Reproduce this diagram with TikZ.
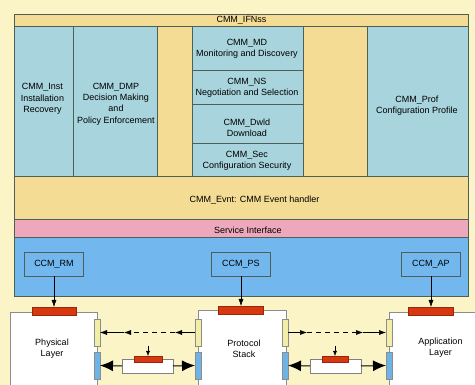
\documentclass[tikz,border=0pt]{standalone}
\usepackage{fontspec}
\setmainfont{Liberation Sans}
\usetikzlibrary{arrows.meta}
\definecolor{bgc}{HTML}{FBF4C6}
\definecolor{gold}{HTML}{F5DC94}
\definecolor{lblue}{HTML}{A8D4DD}
\definecolor{pinkc}{HTML}{EDA8BB}
\definecolor{bluec}{HTML}{72B8EF}
\definecolor{redc}{HTML}{D8380F}
\definecolor{bord}{HTML}{4E5F58}
\definecolor{ybar}{HTML}{F3EEA6}
\definecolor{bbar}{HTML}{6CB4E8}
\begin{document}
\begin{tikzpicture}[x=1pt,y=-1pt,
  font=\fontsize{9}{11.3}\selectfont,
  cell/.style={draw=bord, line width=0.6pt, inner sep=0pt, outer sep=0pt, anchor=north west},
  lbl/.style={align=center, inner sep=0pt},
  layerbox/.style={draw=black!45, fill=white, line width=0.6pt, inner sep=0pt, outer sep=0pt, anchor=north west},
  redbar/.style={draw=redc!70!black, fill=redc, line width=0.4pt, inner sep=0pt, outer sep=0pt, anchor=north west},
  ybarbox/.style={draw=black!45, fill=ybar, line width=0.5pt, inner sep=0pt, outer sep=0pt, anchor=north west, minimum width=6pt, minimum height=27pt},
  bbarbox/.style={draw=black!45, fill=bbar, line width=0.5pt, inner sep=0pt, outer sep=0pt, anchor=north west, minimum width=6pt, minimum height=27pt},
  thinarrow/.style={draw=black, line width=0.5pt, -{Latex[length=7pt,width=5pt]}},
  bigarrow/.style={draw=black, line width=1pt, -{Latex[length=13pt,width=11pt]}},
  ccmbox/.style={draw=bord, line width=0.6pt, inner sep=0pt, outer sep=0pt, minimum width=59pt, minimum height=24pt}
]
\useasboundingbox (0,0) rectangle (475,385);
\fill[bgc] (0,0) rectangle (475,385);

% upper framework
\node[cell, fill=gold, minimum width=454pt, minimum height=205pt] (frame) at (14,14) {};
\node[cell, fill=gold, minimum width=454pt, minimum height=12pt] (ifn) at (14,14) {};
\node[cell, fill=lblue, minimum width=59pt, minimum height=150pt] (inst) at (14,26) {};
\node[cell, fill=lblue, minimum width=84pt, minimum height=150pt] (dmp) at (73,26) {};
\node[cell, fill=lblue, minimum width=111pt, minimum height=44pt] (md) at (192,26) {};
\node[cell, fill=lblue, minimum width=111pt, minimum height=34pt] (ns) at (192,70) {};
\node[cell, fill=lblue, minimum width=111pt, minimum height=39pt] (dwld) at (192,104) {};
\node[cell, fill=lblue, minimum width=111pt, minimum height=33pt] (sec) at (192,143) {};
\node[cell, fill=lblue, minimum width=101pt, minimum height=150pt] (prof) at (367,26) {};
\node[cell, fill=gold, minimum width=454pt, minimum height=43pt] (evnt) at (14,176) {};
\node[cell, fill=pinkc, minimum width=454pt, minimum height=18pt] (si) at (14,219) {};
\node[cell, fill=bluec, minimum width=454pt, minimum height=59pt] (ccm) at (14,237) {};

\node[lbl] (ifn-t) at (241.5,20) {CMM\_IFNss};
\node[lbl] (inst-t) at (42.5,99) {CMM\_Inst\\Installation\\Recovery};
\node[lbl] (dmp-t) at (116,104) {CMM\_DMP\\Decision Making\\and\\Policy Enforcement};
\node[lbl] (md-t) at (247,49) {CMM\_MD\\Monitoring and Discovery};
\node[lbl] (ns-t) at (247,88) {CMM\_NS\\Negotiation and Selection};
\node[lbl] (dwld-t) at (247,128) {CMM\_Dwld\\Download};
\node[lbl] (sec-t) at (247,161) {CMM\_Sec\\Configuration Security};
\node[lbl] (prof-t) at (417,105.5) {CMM\_Prof\\Configuration Profile};
\node[lbl] (evnt-t) at (254.5,200) {CMM\_Evnt: CMM Event handler};
\node[lbl] (si-t) at (248,230.5) {Service Interface};

% CCM boxes
\node[ccmbox] (ccmrm) at (54,264) {CCM\_RM};
\node[ccmbox] (ccmps) at (241,264) {CCM\_PS};
\node[ccmbox] (ccmap) at (431,264) {CCM\_AP};

% layer boxes
\node[layerbox, minimum width=87pt, minimum height=90pt] (phys) at (10,312) {};
\node[layerbox, minimum width=88pt, minimum height=90pt] (ps) at (198,310) {};
\node[layerbox, minimum width=95pt, minimum height=90pt] (ap) at (389,312) {};

\node[lbl] (phys-t) at (52,348.5) {Physical\\Layer};
\node[lbl] (ps-t) at (244,348.5) {Protocol\\Stack};
\node[lbl] (ap-t) at (440.5,348) {Application\\Layer};

% red bars
\node[redbar, minimum width=44pt, minimum height=8pt] (physred) at (32,307) {};
\node[redbar, minimum width=45pt, minimum height=8pt] (psred) at (218.5,306) {};
\node[redbar, minimum width=45pt, minimum height=8pt] (apred) at (408.5,307) {};

% side bars
\node[ybarbox] (physly) at (94,319) {};
\node[bbarbox] (physlb) at (94,352) {};
\node[ybarbox] (psly) at (195,319) {};
\node[bbarbox] (pslb) at (195,352) {};
\node[ybarbox] (psry) at (282,319) {};
\node[bbarbox] (psrb) at (282,352) {};
\node[ybarbox] (aply) at (386,319) {};
\node[bbarbox] (aplb) at (386,352) {};

% connector middle boxes
\node[layerbox, draw=black!50, minimum width=51pt, minimum height=14pt] (lrect) at (122,359) {};
\node[layerbox, draw=black!50, minimum width=51pt, minimum height=14pt] (rrect) at (310,359) {};
\node[redbar, minimum width=28pt, minimum height=6pt] (lred) at (134,356) {};
\node[redbar, minimum width=26pt, minimum height=6pt] (rred) at (322,356) {};

% arrows from CCM boxes
\draw[thinarrow] (ccmrm.south) -- (physred.north);
\draw[thinarrow] (ccmps.south) -- (psred.north);
\draw[thinarrow] (ccmap.south) -- (apred.north);

% dashed arrows
\coordinate (dl1) at (175,332.5);
\coordinate (dl2) at (124,332.5);
\draw[thinarrow] (psly.west) -- (dl1);
\draw[thinarrow, dash pattern=on 5pt off 4pt] (dl1) -- (dl2);
\draw[thinarrow] (dl2) -- (physly.east);

\coordinate (dr1) at (307,332.5);
\coordinate (dr2) at (363,332.5);
\draw[thinarrow] (psry.east) -- (dr1);
\draw[thinarrow, dash pattern=on 5pt off 4pt] (dr1) -- (dr2);
\draw[thinarrow] (dr2) -- (aply.west);

% big arrows
\draw[bigarrow] (lrect.west) -- (physlb.east);
\draw[bigarrow] (lrect.east) -- (pslb.west);
\draw[bigarrow] (rrect.west) -- (psrb.east);
\draw[bigarrow] (rrect.east) -- (aplb.west);

% small arrows onto red bars
\coordinate (lsrc) at (148,346);
\coordinate (rsrc) at (335,346);
\draw[draw=black, line width=0.5pt, -{Latex[length=5pt,width=4pt]}] (lsrc) -- (lred.north);
\draw[draw=black, line width=0.5pt, -{Latex[length=5pt,width=4pt]}] (rsrc) -- (rred.north);
\end{tikzpicture}
\end{document}
